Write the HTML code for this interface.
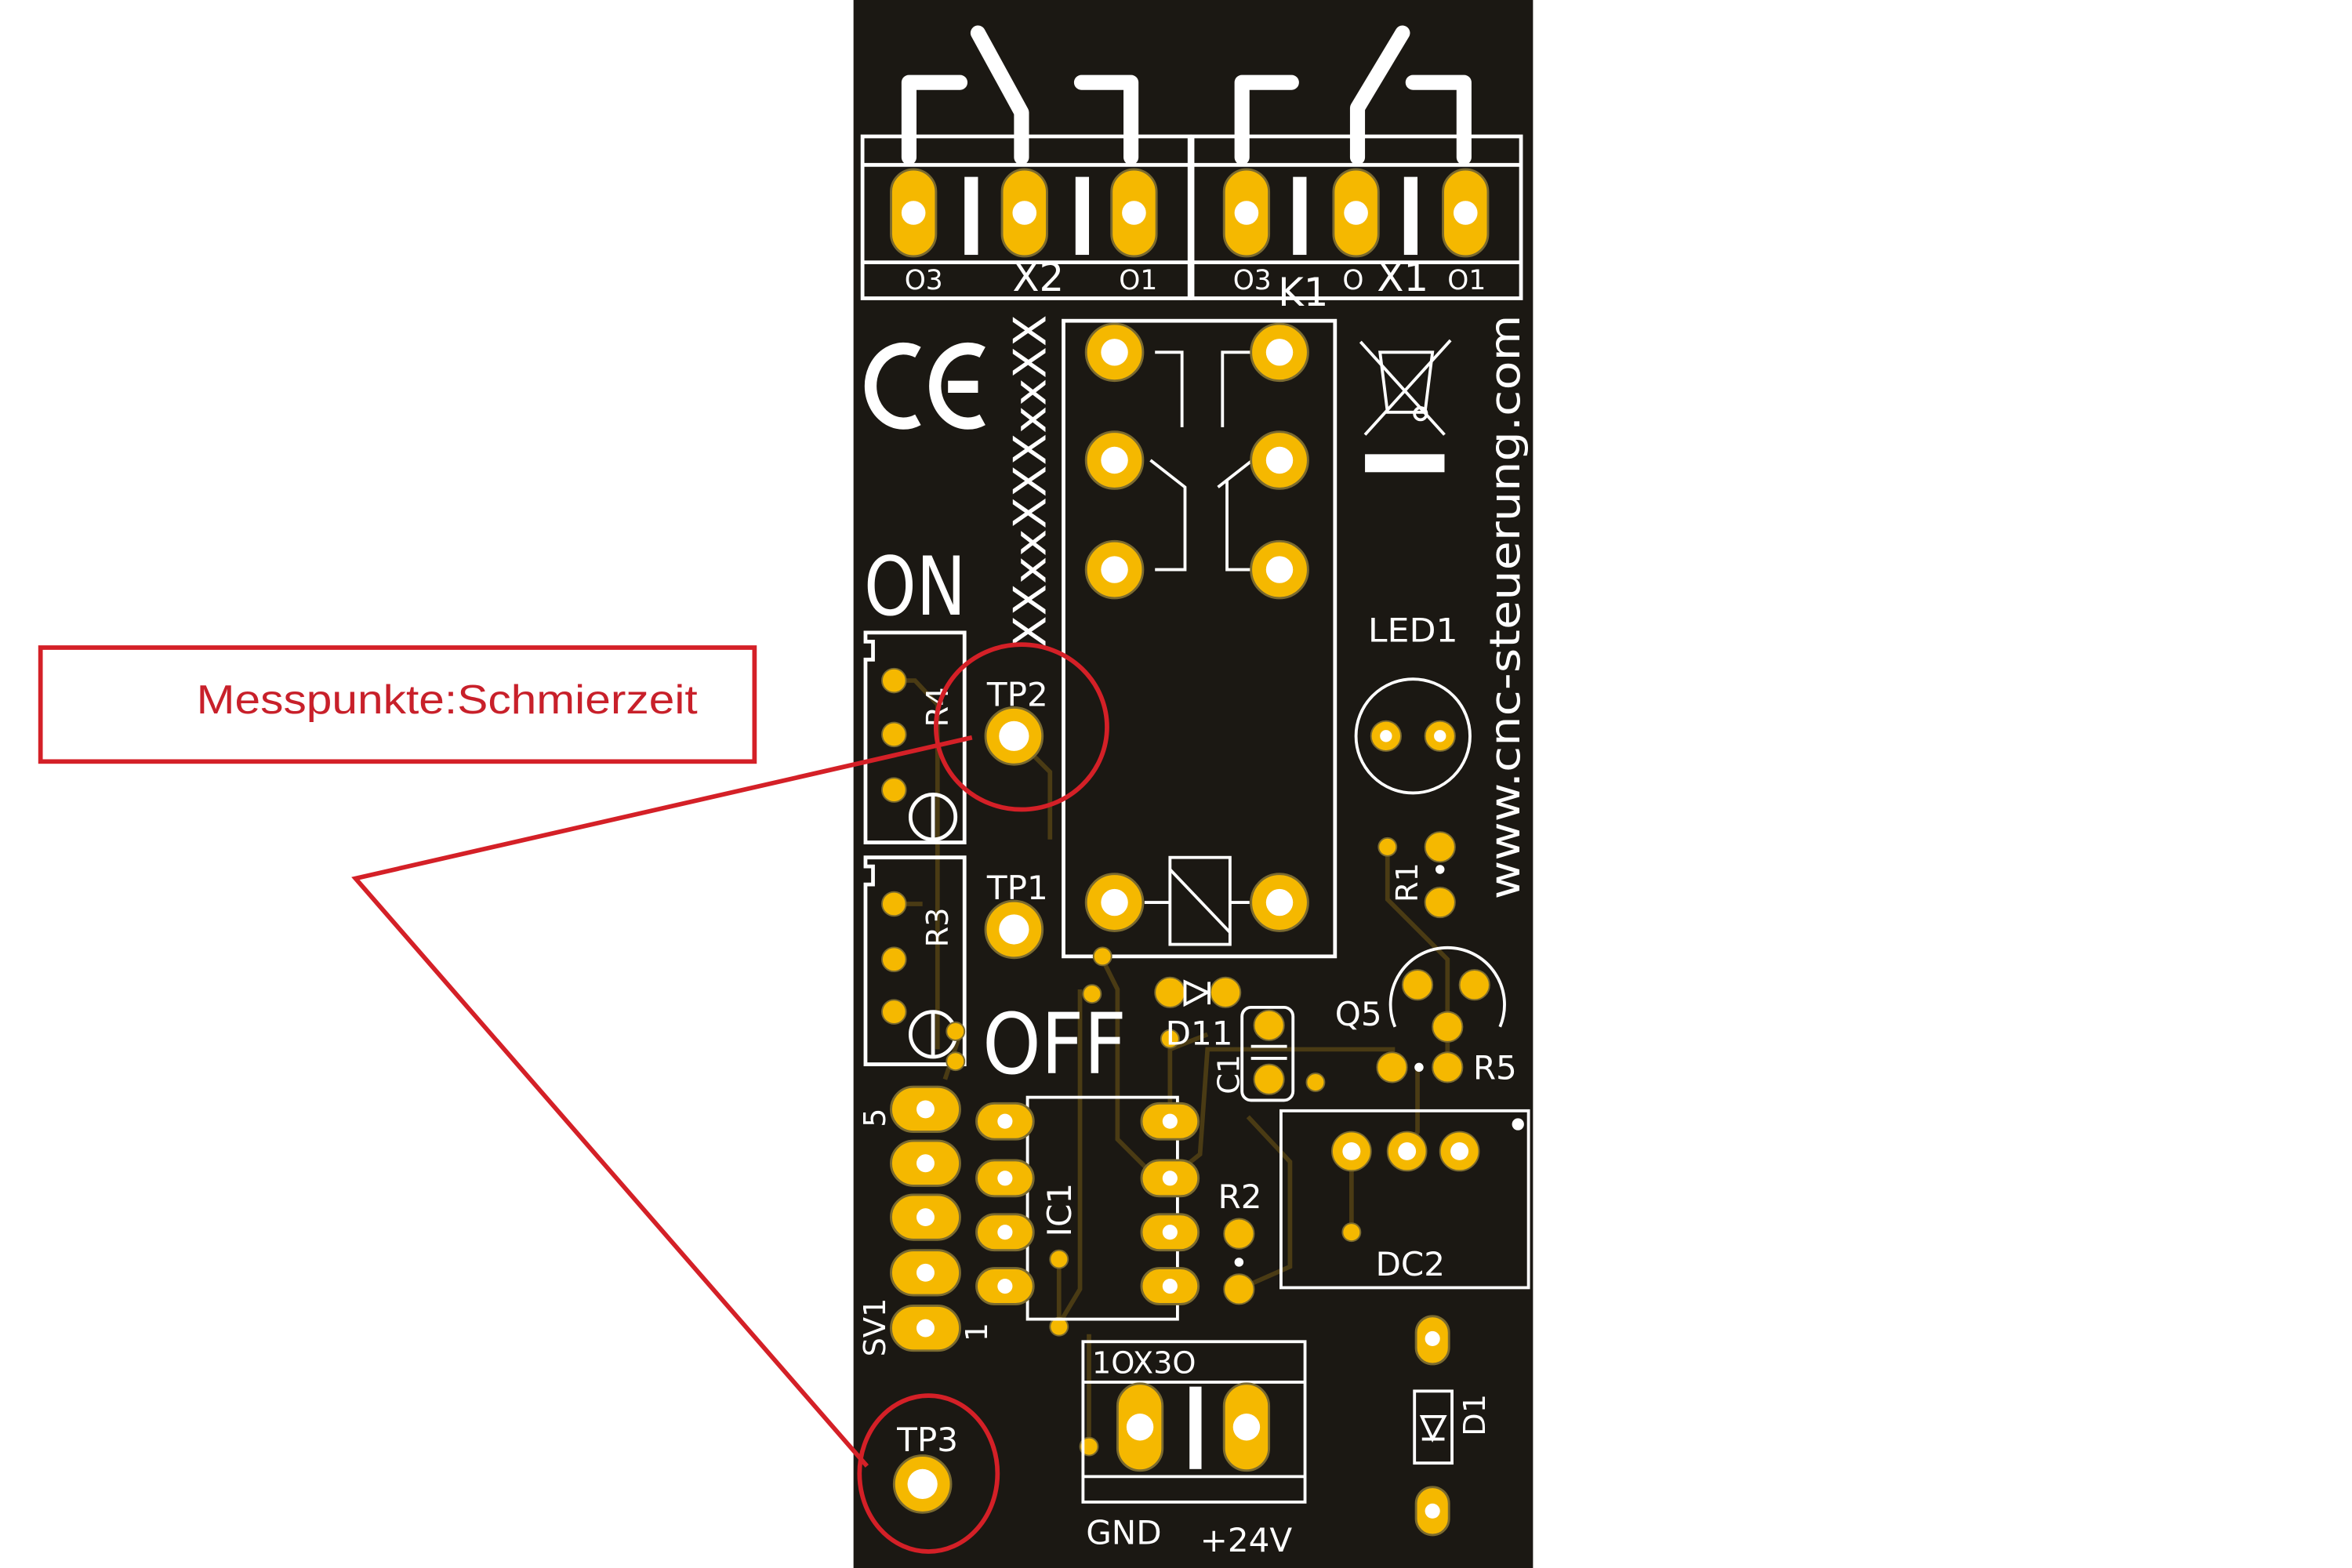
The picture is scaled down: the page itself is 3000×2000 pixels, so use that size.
<!DOCTYPE html>
<html><head><meta charset="utf-8"><style>html,body{margin:0;padding:0;background:#fff;}svg{display:block}</style></head><body>
<svg width="3000" height="2000" viewBox="0 0 1568 1046" preserveAspectRatio="none" xmlns="http://www.w3.org/2000/svg" font-family="'DejaVu Sans', 'Liberation Sans', sans-serif">
<rect x="0" y="0" width="1568" height="1046" fill="#fff"/>
<rect x="569" y="0" width="453" height="1046" fill="#1b1813"/>
<g stroke="#4a3b14" stroke-width="3" fill="none">
<path d="M596 454 H610 L625 470 V700"/><path d="M596 603 H615"/><path d="M676 491 L700 515 V560"/>
<path d="M735 640 L745 660 V760 L780 795"/><path d="M720 660 V860 L705 885"/><path d="M780 750 V700 L805 690"/>
<path d="M780 786 L800 770 L805 700 L846 700 H930"/><path d="M925 565 V600 L965 640 V712"/>
<path d="M938 768 L945 755 V712"/><path d="M901 768 V822"/><path d="M832 745 L860 775 V845 L826 860"/>
<path d="M706 840 V885"/><path d="M726 965 V890"/><path d="M640 690 L630 720"/>
</g>
<g stroke="#fff" stroke-width="2.5" fill="none">
<rect x="575" y="91" width="218" height="108"/><line x1="575" y1="110" x2="793" y2="110"/><line x1="575" y1="175" x2="793" y2="175"/>
<rect x="795" y="91" width="219" height="108"/><line x1="795" y1="110" x2="1014" y2="110"/><line x1="795" y1="175" x2="1014" y2="175"/>
</g>
<g stroke="#fff" stroke-width="10" fill="none" stroke-linecap="round" stroke-linejoin="round">
<path d="M606 105 V55 H640"/><path d="M652 22 L681 75 V105"/><path d="M721 55 H754 V105"/>
<path d="M828 105 V55 H861"/><path d="M935 22 L905 72 V105"/><path d="M942 55 H976 V105"/>
</g>
<g fill="#fff"><rect x="643" y="118" width="9" height="52"/><rect x="717" y="118" width="9" height="52"/><rect x="862" y="118" width="9" height="52"/><rect x="936" y="118" width="9" height="52"/></g>
<g fill="#f5b800" stroke="#7a6a30" stroke-width="1.5">
<rect x="594" y="113" width="30" height="58" rx="15"/><rect x="668" y="113" width="30" height="58" rx="15"/><rect x="741" y="113" width="30" height="58" rx="15"/>
<rect x="816" y="113" width="30" height="58" rx="15"/><rect x="889" y="113" width="30" height="58" rx="15"/><rect x="962" y="113" width="30" height="58" rx="15"/>
</g>
<g fill="#fff"><circle cx="609" cy="142" r="8"/><circle cx="683" cy="142" r="8"/><circle cx="756" cy="142" r="8"/><circle cx="831" cy="142" r="8"/><circle cx="904" cy="142" r="8"/><circle cx="977" cy="142" r="8"/></g>
<g fill="#fff" font-size="18">
<text x="603" y="193">O3</text><text x="675" y="194" font-size="26">X2</text><text x="746" y="193">O1</text>
<text x="822" y="193">O3</text><text x="852" y="204" font-size="26">K1</text><text x="895" y="193">O</text><text x="918" y="194" font-size="26">X1</text><text x="965" y="193">O1</text>
</g>
<g stroke="#fff" stroke-width="8" fill="none"><path d="M612 235 A22 25 0 1 0 612 280"/><path d="M655 235 A22 25 0 1 0 655 280 M632 258 H652"/></g>
<text transform="translate(697,432) rotate(-90)" fill="#fff" font-size="30" textLength="222" lengthAdjust="spacingAndGlyphs">XXxxXXXxxXX</text>
<rect x="709" y="214" width="181" height="424" fill="none" stroke="#fff" stroke-width="2.5"/>
<g stroke="#fff" stroke-width="2" fill="none">
<path d="M770 235 H788 V285"/><path d="M835 235 H815 V285"/><path d="M767 307 L790 325 V380 H770"/><path d="M835 307 L812 325 M818 320 V380 H835"/>
<rect x="780" y="572" width="40" height="58"/><path d="M780 580 L820 622"/><path d="M763 602 H780 M820 602 H833"/>
</g>
<g fill="#f5b800" stroke="#7a6a30" stroke-width="1.5">
<circle cx="743" cy="235" r="19"/><circle cx="853" cy="235" r="19"/><circle cx="743" cy="307" r="19"/><circle cx="853" cy="307" r="19"/>
<circle cx="743" cy="380" r="19"/><circle cx="853" cy="380" r="19"/><circle cx="743" cy="602" r="19"/><circle cx="853" cy="602" r="19"/>
<circle cx="676" cy="491" r="19"/><circle cx="676" cy="620" r="19"/><circle cx="615" cy="990" r="19"/>
</g>
<g fill="#fff"><circle cx="743" cy="235" r="9"/><circle cx="853" cy="235" r="9"/><circle cx="743" cy="307" r="9"/><circle cx="853" cy="307" r="9"/><circle cx="743" cy="380" r="9"/><circle cx="853" cy="380" r="9"/><circle cx="743" cy="602" r="9"/><circle cx="853" cy="602" r="9"/>
<circle cx="676" cy="491" r="10"/><circle cx="676" cy="620" r="10"/><circle cx="615" cy="990" r="10"/></g>
<g stroke="#fff" stroke-width="2" fill="none"><path d="M907 228 L963 290 M967 227 L910 290"/><path d="M920 235 H955 L950 275 H925 Z"/><circle cx="947" cy="276" r="4"/></g>
<rect x="910" y="303" width="53" height="12" fill="#fff"/>
<text transform="translate(1013,600) rotate(-90)" fill="#fff" font-size="28" textLength="390" lengthAdjust="spacingAndGlyphs">www.cnc-steuerung.com</text>
<text x="912" y="428" fill="#fff" font-size="22" textLength="60" lengthAdjust="spacingAndGlyphs">LED1</text>
<circle cx="942" cy="491" r="38" fill="none" stroke="#fff" stroke-width="2"/>
<text x="576" y="410" fill="#fff" font-size="54" textLength="68" lengthAdjust="spacingAndGlyphs">ON</text>
<text x="655" y="716" fill="#fff" font-size="56" textLength="96" lengthAdjust="spacingAndGlyphs">OFF</text>
<g stroke="#fff" stroke-width="2.5" fill="none"><path d="M577 422 H643 V562 H577 V440 H582 V428 H577 Z"/><path d="M577 572 H643 V710 H577 V590 H582 V578 H577 Z"/>
<circle cx="622" cy="545" r="15"/><line x1="622" y1="530" x2="622" y2="560"/><circle cx="622" cy="690" r="15"/><line x1="622" y1="675" x2="622" y2="705"/></g>
<text transform="translate(632,632) rotate(-90)" fill="#fff" font-size="20">R3</text>
<text transform="translate(632,485) rotate(-90)" fill="#fff" font-size="20">R4</text>
<text x="658" y="471" fill="#fff" font-size="22">TP2</text><text x="658" y="600" fill="#fff" font-size="22">TP1</text><text x="598" y="968" fill="#fff" font-size="22">TP3</text>
<g fill="#f5b800" stroke="#7a6a30" stroke-width="1">
<circle cx="596" cy="454" r="8"/><circle cx="596" cy="490" r="8"/><circle cx="596" cy="527" r="8"/><circle cx="596" cy="603" r="8"/><circle cx="596" cy="640" r="8"/><circle cx="596" cy="675" r="8"/>
<circle cx="637" cy="688" r="6"/><circle cx="637" cy="708" r="6"/><circle cx="735" cy="638" r="6"/><circle cx="728" cy="663" r="6"/><circle cx="780" cy="693" r="6"/><circle cx="925" cy="565" r="6"/><circle cx="877" cy="722" r="6"/><circle cx="901" cy="822" r="6"/><circle cx="706" cy="840" r="6"/><circle cx="706" cy="885" r="6"/><circle cx="726" cy="965" r="6"/>
<circle cx="780" cy="662" r="10"/><circle cx="817" cy="662" r="10"/><circle cx="846" cy="684" r="10"/><circle cx="846" cy="720" r="10"/>
<circle cx="945" cy="657" r="10"/><circle cx="983" cy="657" r="10"/><circle cx="965" cy="685" r="10"/><circle cx="928" cy="712" r="10"/><circle cx="965" cy="712" r="10"/>
<circle cx="960" cy="565" r="10"/><circle cx="960" cy="602" r="10"/><circle cx="826" cy="823" r="10"/><circle cx="826" cy="860" r="10"/>
<circle cx="924" cy="491" r="10"/><circle cx="960" cy="491" r="10"/><circle cx="901" cy="768" r="13"/><circle cx="938" cy="768" r="13"/><circle cx="973" cy="768" r="13"/>
</g>
<g fill="#fff"><circle cx="924" cy="491" r="4"/><circle cx="960" cy="491" r="4"/><circle cx="901" cy="768" r="6"/><circle cx="938" cy="768" r="6"/><circle cx="973" cy="768" r="6"/><circle cx="960" cy="580" r="3"/><circle cx="826" cy="842" r="3"/><circle cx="946" cy="712" r="3"/><circle cx="1012" cy="750" r="4"/></g>
<g fill="none" stroke="#fff" stroke-width="2"><path d="M790 655 V670 L805 662 Z M806 655 V670"/><rect x="828" y="672" width="34" height="62" rx="6"/><path d="M834 698 H858 M834 706 H858"/>
<path d="M930 685 A38 38 0 1 1 1000 685"/><rect x="854" y="741" width="165" height="118"/>
<rect x="685" y="732" width="100" height="148"/>
<rect x="722" y="895" width="148" height="107"/><line x1="722" y1="922" x2="870" y2="922"/><line x1="722" y1="985" x2="870" y2="985"/>
<rect x="943" y="928" width="25" height="48"/><path d="M948 945 H963 L955 960 Z M948 960 H963"/></g>
<g fill="#fff" font-size="22"><text x="777" y="697">D11</text><text x="890" y="684">Q5</text><text x="982" y="720">R5</text><text x="812" y="806">R2</text><text x="917" y="851">DC2</text>
<text x="724" y="1030">GND</text><text x="800" y="1035">+24V</text><text x="728" y="916" font-size="20">1OX3O</text></g>
<text transform="translate(945,602) rotate(-90)" fill="#fff" font-size="20">R1</text>
<text transform="translate(826,730) rotate(-90)" fill="#fff" font-size="20">C1</text>
<text transform="translate(714,825) rotate(-90)" fill="#fff" font-size="22">IC1</text>
<text transform="translate(990,958) rotate(-90)" fill="#fff" font-size="20">D1</text>
<text transform="translate(590,905) rotate(-90)" fill="#fff" font-size="20">SV1</text>
<text transform="translate(590,752) rotate(-90)" fill="#fff" font-size="20">5</text>
<text transform="translate(658,895) rotate(-90)" fill="#fff" font-size="20">1</text>
<g fill="#f5b800" stroke="#7a6a30" stroke-width="1.5">
<rect x="594" y="725" width="46" height="30" rx="15"/><rect x="594" y="761" width="46" height="30" rx="15"/><rect x="594" y="797" width="46" height="30" rx="15"/><rect x="594" y="834" width="46" height="30" rx="15"/><rect x="594" y="871" width="46" height="30" rx="15"/>
<rect x="651" y="736" width="38" height="24" rx="12"/><rect x="651" y="774" width="38" height="24" rx="12"/><rect x="651" y="810" width="38" height="24" rx="12"/><rect x="651" y="846" width="38" height="24" rx="12"/>
<rect x="761" y="736" width="38" height="24" rx="12"/><rect x="761" y="774" width="38" height="24" rx="12"/><rect x="761" y="810" width="38" height="24" rx="12"/><rect x="761" y="846" width="38" height="24" rx="12"/>
<rect x="745" y="923" width="30" height="58" rx="15"/><rect x="816" y="923" width="30" height="58" rx="15"/>
<rect x="944" y="878" width="22" height="32" rx="11"/><rect x="944" y="992" width="22" height="32" rx="11"/>
</g>
<rect x="793" y="925" width="8" height="55" fill="#fff"/>
<g fill="#fff"><circle cx="617" cy="740" r="6"/><circle cx="617" cy="776" r="6"/><circle cx="617" cy="812" r="6"/><circle cx="617" cy="849" r="6"/><circle cx="617" cy="886" r="6"/>
<circle cx="670" cy="748" r="5"/><circle cx="670" cy="786" r="5"/><circle cx="670" cy="822" r="5"/><circle cx="670" cy="858" r="5"/><circle cx="780" cy="748" r="5"/><circle cx="780" cy="786" r="5"/><circle cx="780" cy="822" r="5"/><circle cx="780" cy="858" r="5"/>
<circle cx="760" cy="952" r="9"/><circle cx="831" cy="952" r="9"/><circle cx="955" cy="893" r="5"/><circle cx="955" cy="1008" r="5"/></g>
<g stroke="#d42027" stroke-width="3" fill="none">
<rect x="27" y="432" width="476" height="76"/>
<ellipse cx="681" cy="485" rx="57" ry="55"/>
<ellipse cx="619" cy="983" rx="46" ry="52"/>
<path d="M648 492 L237 586 L578 978"/>
</g>
<text x="131" y="476" fill="#c8202a" font-family="'Liberation Sans', sans-serif" font-size="27" textLength="334" lengthAdjust="spacingAndGlyphs">Messpunkte:Schmierzeit</text>
</svg>
</body></html>
